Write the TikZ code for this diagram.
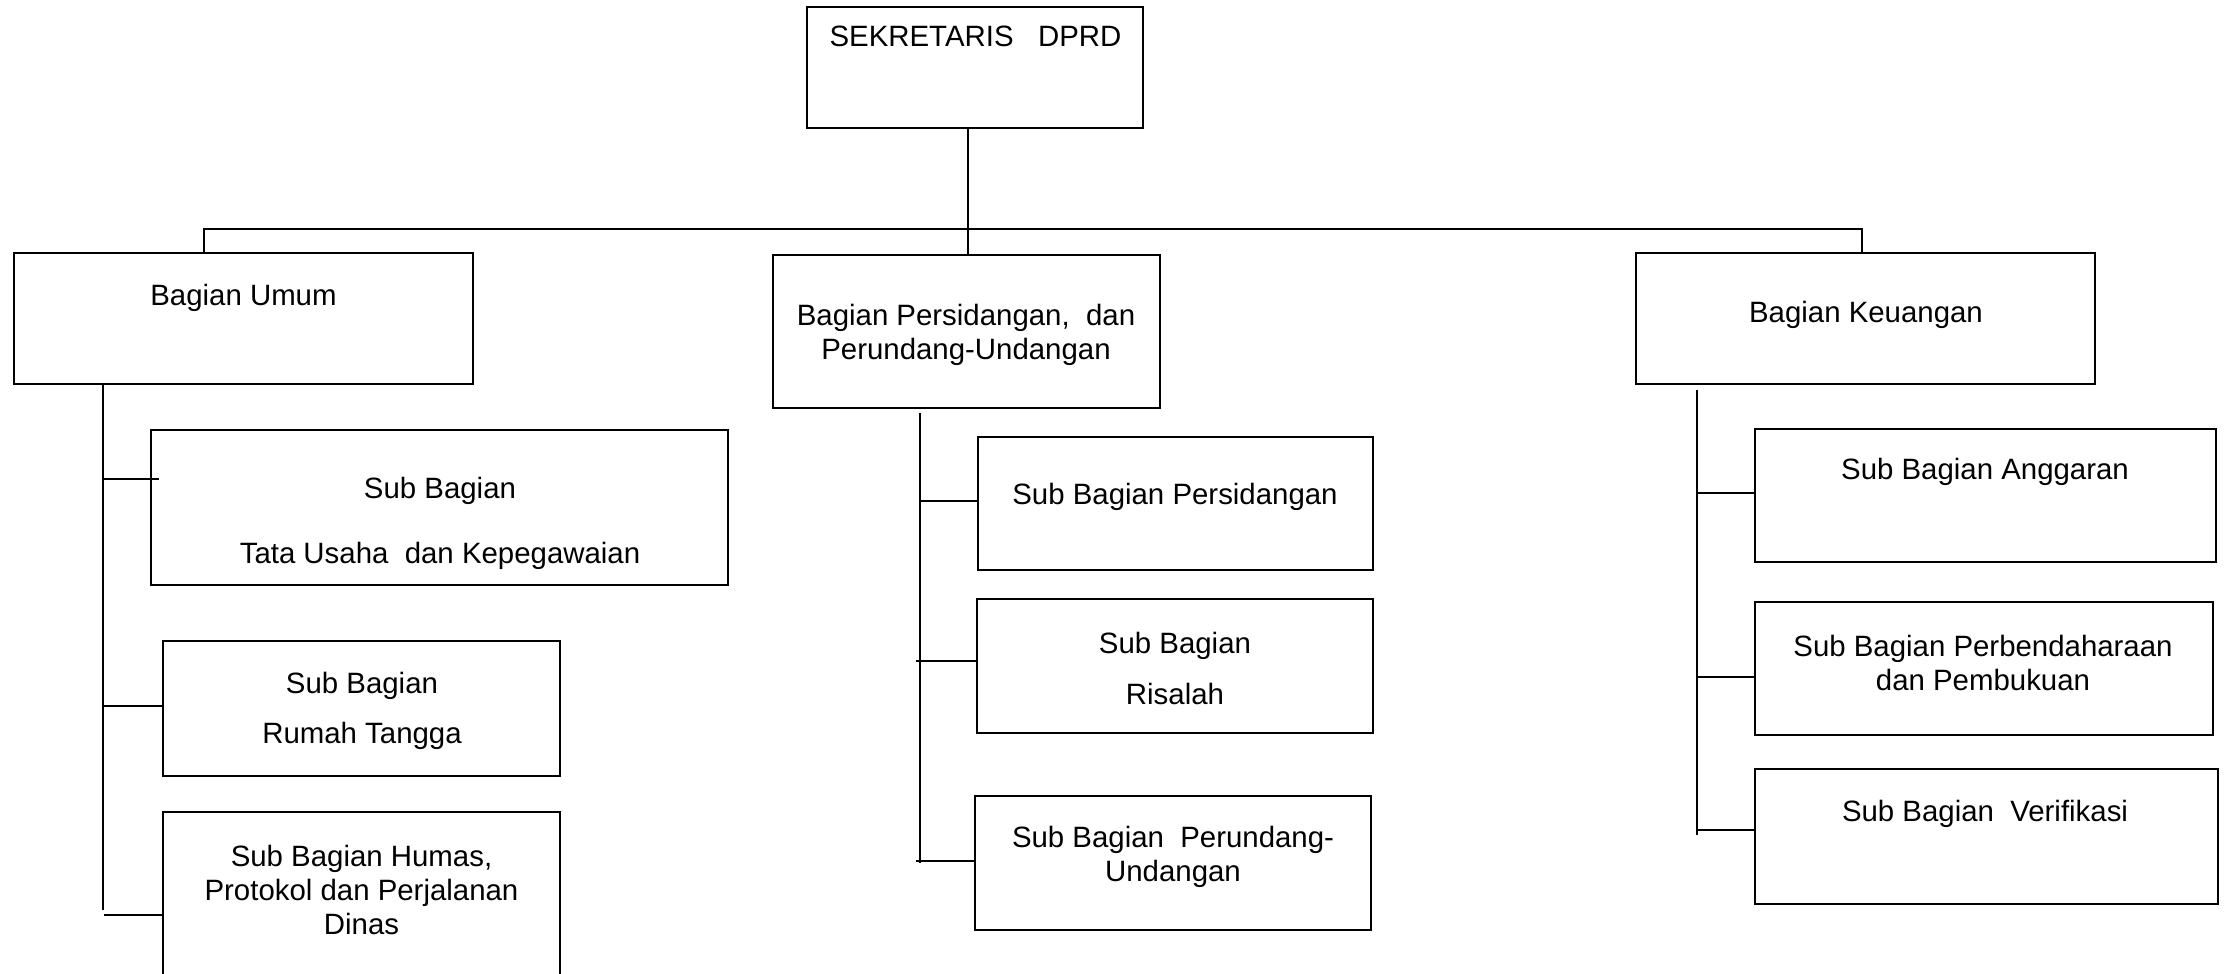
\documentclass[tikz,border=0pt]{standalone}
\usepackage{fontspec}
\setmainfont{Liberation Sans}
\usetikzlibrary{fit}
\begin{document}
\begin{tikzpicture}[x=0.5pt,y=-0.5pt,
  box/.style={draw, line width=1pt, inner sep=0pt},
  lbl/.style={font=\fontsize{14.7pt}{16.8pt}\selectfont, align=center, inner sep=0pt},
  conn/.style={line width=1pt},
  bus/.style={line width=1.1pt}]
\useasboundingbox (0,0) rectangle (2229,974);
\clip (0,0) rectangle (2229,974);
\fill[white] (0,0) rectangle (2229,974);

% boxes
\node[box, fit={(807,7) (1143,128)}] (sek) {};
\node[box, fit={(14,253) (473,384)}] (umum) {};
\node[box, fit={(773,255) (1160,408)}] (pers) {};
\node[box, fit={(1636,253) (2095,384)}] (keu) {};
\node[box, fit={(151,430) (728,585)}] (tu) {};
\node[box, fit={(163,641) (560,776)}] (rt) {};
\node[box, fit={(163,812) (560,1000)}] (hum) {};
\node[box, fit={(978,437) (1373,570)}] (sp) {};
\node[box, fit={(977,599) (1373,733)}] (ris) {};
\node[box, fit={(975,796) (1371,930)}] (pu) {};
\node[box, fit={(1755,428.5) (2215.5,562)}] (ang) {};
\node[box, fit={(1755,601.5) (2212.5,735)}] (pb) {};
\node[box, fit={(1755,769) (2218,904)}] (ver) {};

% labels
\node[lbl] (tsek) at (975.5,36.7) {SEKRETARIS\ \ \ DPRD};
\node[lbl] (tumum) at (243.5,298) {Bagian Umum};
\node[lbl] (tpers) at (966,335) {Bagian Persidangan,\ \ dan\\Perundang-Undangan};
\node[lbl] (tkeu) at (1866,315) {Bagian Keuangan};
\node[lbl] (ttu) at (440,523.5) {Sub Bagian\\[15.7pt]Tata Usaha\ \ dan Kepegawaian};
\node[lbl] (trt) at (362,711) {Sub Bagian\\[8.2pt]Rumah Tangga};
\node[lbl] (thum) at (361.5,890) {Sub Bagian Humas,\\Protokol dan Perjalanan\\Dinas};
\node[lbl] (tsp) at (1175,496.7) {Sub Bagian Persidangan};
\node[lbl] (tris) at (1175,668.3) {Sub Bagian\\[8.5pt]Risalah};
\node[lbl] (tpu) at (1173,857) {Sub Bagian\ \ Perundang-\\Undangan};
\node[lbl] (tang) at (1985,472) {Sub Bagian Anggaran};
\node[lbl] (tpb) at (1983,663) {Sub Bagian Perbendaharaan\\dan Pembukuan};
\node[lbl] (tver) at (1985,813.7) {Sub Bagian\ \ Verifikasi};

% top connectors
\coordinate (sekdrop) at (968,128);
\draw[conn] (sekdrop) -- (sekdrop |- pers.north);
\coordinate (busL) at (204,229);
\coordinate (busR) at (1862,229);
\draw[bus] (busL |- umum.north) -- (busL) -- (busR) -- (busR |- keu.north);

% Bagian Umum branch
\coordinate (uS) at (103,384);
\coordinate (uE) at (103,910);
\draw[conn] (uS) -- (uE);
\coordinate (u1) at (103,478.5);
\coordinate (u2) at (104,706);
\coordinate (u3) at (104,915);
\draw[conn] (u1) -- ([xshift=4.5pt]u1 -| tu.west);
\draw[conn] (u2) -- (u2 -| rt.west);
\draw[conn] (u3) -- (u3 -| hum.west);

% Bagian Persidangan branch
\coordinate (pS) at (920,413);
\coordinate (pE) at (920,863);
\draw[conn] (pS) -- (pE);
\coordinate (p1) at (920,501);
\coordinate (p2) at (916,661);
\coordinate (p3) at (916,861.4);
\draw[conn] (p1) -- (p1 -| sp.west);
\draw[conn] (p2) -- (p2 -| ris.west);
\draw[conn] (p3) -- (p3 -| pu.west);

% Bagian Keuangan branch
\coordinate (kS) at (1697,389.5);
\coordinate (kE) at (1697,834.5);
\draw[conn] (kS) -- (kE);
\coordinate (k1) at (1697,492.5);
\coordinate (k2) at (1697,677);
\coordinate (k3) at (1697,829.6);
\draw[conn] (k1) -- (k1 -| ang.west);
\draw[conn] (k2) -- (k2 -| pb.west);
\draw[conn] (k3) -- (k3 -| ver.west);
\end{tikzpicture}
\end{document}
